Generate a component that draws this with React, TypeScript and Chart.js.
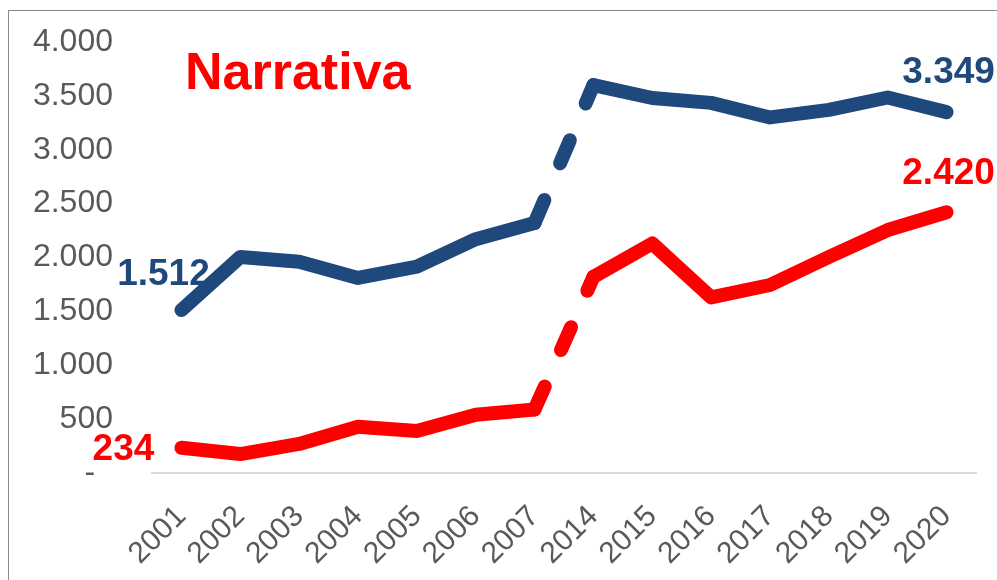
import { useEffect, useRef } from 'react';
import { Chart, registerables } from 'chart.js';

Chart.register(...registerables);

const years = ['2001', '2002', '2003', '2004', '2005', '2006', '2007', '2014', '2015', '2016', '2017', '2018', '2019', '2020'];
const seriesBlue = [1512, 2005, 1960, 1810, 1915, 2170, 2320, 3600, 3480, 3435, 3300, 3370, 3485, 3349];
const seriesRed = [234, 176, 270, 430, 390, 540, 590, 1820, 2130, 1630, 1745, 2005, 2255, 2420];
const yTickValues = [0, 500, 1000, 1500, 2000, 2500, 3000, 3500, 4000];
const titleText = 'Narrativa';
const gapIndex = 6; // segment 2007 -> 2014 drawn dashed

const BLUE = '#1F497D';
const RED = '#FF0000';
const GREY = '#595959';
const FONT = '"Liberation Sans", Arial, sans-serif';

const fmt = (v: number) => (v === 0 ? '-  ' : String(v).replace(/\B(?=(\d{3})+(?!\d))/g, '.'));

// label offsets relative to point: [dx, dy]
const labelStyle = [
  { first: [-18, -25], last: [2, -29] },
  { first: [-58, 12], last: [2, -28] },
];

const labelsPlugin = {
  id: 'endLabels',
  afterDatasetsDraw(chart: any) {
    const ctx = chart.ctx;
    ctx.save();
    ctx.font = `bold 37px ${FONT}`;
    ctx.textAlign = 'center';
    ctx.textBaseline = 'alphabetic';
    chart.data.datasets.forEach((ds: any, i: number) => {
      const meta = chart.getDatasetMeta(i);
      const n = ds.data.length;
      const pts = [
        { el: meta.data[0], v: ds.data[0], off: labelStyle[i].first },
        { el: meta.data[n - 1], v: ds.data[n - 1], off: labelStyle[i].last },
      ];
      ctx.fillStyle = ds.borderColor;
      pts.forEach((p) => {
        ctx.fillText(fmt(p.v), p.el.x + p.off[0], p.el.y + p.off[1]);
      });
    });
    const a = chart.chartArea;
    ctx.fillStyle = RED;
    ctx.textAlign = 'left';
    ctx.font = `bold 52px ${FONT}`;
    ctx.fillText(titleText, a.left + 33, a.top + 47);
    ctx.restore();
  },
};

export default function App() {
  const ref = useRef<HTMLCanvasElement | null>(null);
  useEffect(() => {
    if (!ref.current) return;
    const chart = new Chart(ref.current, {
      type: 'line',
      data: {
        labels: years,
        datasets: [
          { data: seriesBlue, borderColor: BLUE, backgroundColor: BLUE },
          { data: seriesRed, borderColor: RED, backgroundColor: RED },
        ].map((d) => ({
          ...d,
          borderWidth: 14,
          pointRadius: 0,
          pointHoverRadius: 0,
          tension: 0,
          fill: false,
          borderCapStyle: 'round' as const,
          borderJoinStyle: 'round' as const,
          segment: {
            borderDash: (c: any) => (c.p0DataIndex === gapIndex ? [25, 40] : undefined),
          },
        })),
      },
      plugins: [labelsPlugin],
      options: {
        animation: false,
        responsive: false,
        events: [],
        layout: { padding: { left: 0, top: 42, right: 21, bottom: 0 } },
        plugins: { legend: { display: false }, tooltip: { enabled: false }, title: { display: false } },
        scales: {
          x: {
            offset: true,
            grid: { display: false, drawTicks: true, tickLength: 26 },
            border: { display: true, color: '#D9D9D9', width: 2 },
            ticks: {
              color: GREY,
              font: { size: 30, family: FONT },
              minRotation: 45,
              maxRotation: 45,
              padding: 0,
              autoSkip: false,
            },
            afterFit: (s: any) => {
              s.height = 107;
            },
          },
          y: {
            min: 0,
            max: 4000,
            grid: { display: false, drawTicks: true, tickLength: 39 },
            border: { display: false },
            afterBuildTicks: (s: any) => {
              s.ticks = yTickValues.map((v) => ({ value: v }));
            },
            ticks: {
              color: GREY,
              font: { size: 32, family: FONT },
              padding: 0,
              callback: (v: any) => fmt(Number(v)),
            },
            afterFit: (s: any) => {
              s.width = 152;
            },
          },
        },
      },
    });
    return () => chart.destroy();
  }, []);
  return (
    <div style={{ position: 'absolute', left: 0, top: 0, width: 997, height: 580, background: '#fff', overflow: 'hidden' }}>
      <div
        style={{
          position: 'absolute',
          left: 8,
          top: 10,
          width: 1000,
          height: 600,
          borderLeft: '1px solid #8a8a8a',
          borderTop: '1px solid #8a8a8a',
        }}
      />
      <canvas ref={ref} width={997} height={580} style={{ position: 'absolute', left: 0, top: 0 }} />
    </div>
  );
}
